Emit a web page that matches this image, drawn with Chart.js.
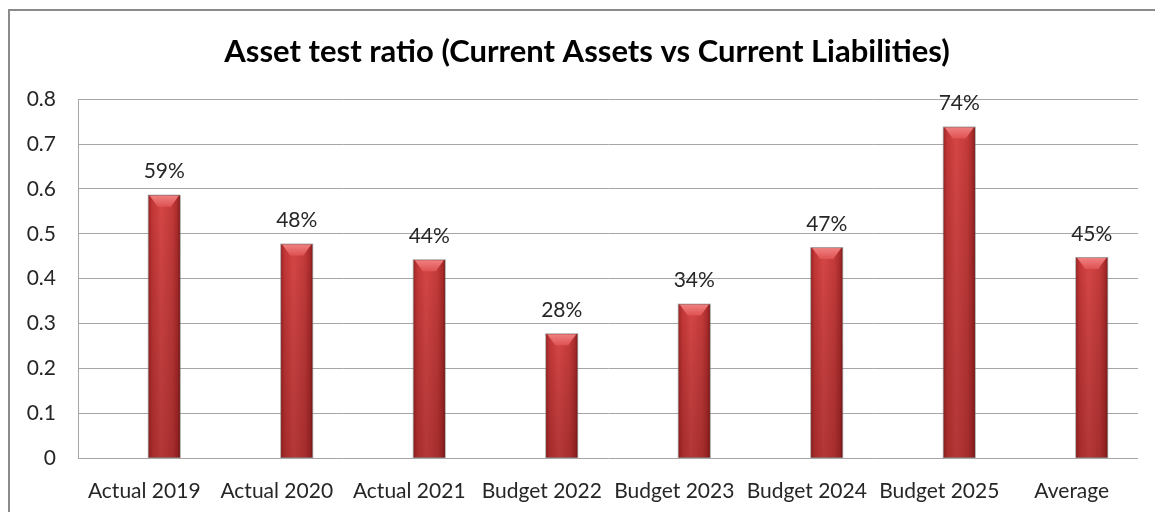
<!DOCTYPE html>
<html>
<head>
<meta charset="utf-8">
<title>Asset test ratio</title>
<script src="https://cdn.jsdelivr.net/npm/chart.js@4.4.1/dist/chart.umd.min.js"></script>
<style>
  html, body { margin: 0; padding: 0; background: #fff; }
  #wrap { width: 1155px; height: 512px; position: relative; }
</style>
</head>
<body>
<div id="wrap"><canvas id="ratioChart"></canvas></div>
<script>
// 데이터
const categories = ['Actual 2019', 'Actual 2020', 'Actual 2021', 'Budget 2022',
                    'Budget 2023', 'Budget 2024', 'Budget 2025', 'Average'];
const ratioValues = [0.585, 0.476, 0.441, 0.276, 0.342, 0.468, 0.737, 0.446];
const yTicks = [0, 0.1, 0.2, 0.3, 0.4, 0.5, 0.6, 0.7, 0.8];

const FONT = 'Lato, "Open Sans", sans-serif';
const BAR_SHIFT = 20;   // 막대를 카테고리 중심에서 오른쪽으로 밀어줌 (입체 깊이 효과)
const TITLE_INSET = 36; // 제목을 조금 오른쪽으로
const GRID = '#a6a6a6';

const pct = v => Math.round(v * 100) + '%';

// 막대 가로 그라데이션 (원통 느낌)
function barFill(ctx) {
    const chart = ctx.chart;
    if (!chart.chartArea || ctx.dataIndex === undefined) return '#c83c3c';
    const cx = chart.scales.x.getPixelForValue(ctx.dataIndex) + BAR_SHIFT;
    const g = chart.ctx.createLinearGradient(cx - 16, 0, cx + 16, 0);
    g.addColorStop(0, '#9c2424');
    g.addColorStop(0.12, '#c23636');
    g.addColorStop(0.4, '#d64646');
    g.addColorStop(0.75, '#c43a3a');
    g.addColorStop(0.92, '#a82a2a');
    g.addColorStop(1, '#7e1818');
    return g;
}

const framePlugin = {
    id: 'frame',
    afterLayout(chart) {
        if (chart.titleBlock) chart.titleBlock.left += TITLE_INSET;
    },
    beforeDraw(chart) {
        const c = chart.ctx;
        c.save();
        c.fillStyle = '#fff';
        c.fillRect(0, 0, chart.width, chart.height);
        c.strokeStyle = '#8a8a8a';
        c.lineWidth = 2;
        c.strokeRect(9, 10, chart.width + 20, chart.height + 20);
        c.restore();
    }
};

const shiftPlugin = {
    id: 'barShift',
    afterDatasetsUpdate(chart) {
        chart.getDatasetMeta(0).data.forEach(el => { el.x += BAR_SHIFT; });
    }
};

// 막대 윗면 경사, 아래쪽 음영, 값 라벨
const barDecorPlugin = {
    id: 'barDecor',
    afterDatasetsDraw(chart) {
        const c = chart.ctx;
        const meta = chart.getDatasetMeta(0);
        c.save();
        meta.data.forEach((el, i) => {
            const { x, y, base, width } = el.getProps(['x', 'y', 'base', 'width'], true);
            const l = x - width / 2, r = x + width / 2;

            // 아래로 갈수록 살짝 어둡게
            const vg = c.createLinearGradient(0, y, 0, base);
            vg.addColorStop(0, 'rgba(0,0,0,0)');
            vg.addColorStop(1, 'rgba(60,0,0,0.22)');
            c.fillStyle = vg;
            c.fillRect(l, y, width, base - y);

            // 윗면 경사
            const tg = c.createLinearGradient(0, y, 0, y + 11);
            tg.addColorStop(0, '#f08080');
            tg.addColorStop(1, '#de5252');
            c.fillStyle = tg;
            c.beginPath();
            c.moveTo(l + 1, y);
            c.lineTo(r - 1, y);
            c.lineTo(r - 9, y + 11);
            c.lineTo(l + 9, y + 11);
            c.closePath();
            c.fill();

            // 가장자리 그림자
            c.strokeStyle = 'rgba(110,110,110,0.55)';
            c.lineWidth = 1;
            c.strokeRect(l - 0.5, y - 0.5, width + 1, base - y + 0.5);

            // 값 라벨
            c.fillStyle = '#262626';
            c.font = '21px ' + FONT;
            c.textAlign = 'center';
            c.textBaseline = 'middle';
            c.fillText(pct(ratioValues[i]), x, y - 24);
        });
        c.restore();
    }
};

new Chart(document.getElementById('ratioChart'), {
    type: 'bar',
    data: {
        labels: categories,
        datasets: [{
            data: ratioValues,
            backgroundColor: barFill,
            borderWidth: 0,
            barThickness: 31
        }]
    },
    options: {
        responsive: true,
        maintainAspectRatio: false,
        animation: false,
        layout: { padding: { left: 0, right: 17, top: 0, bottom: 0 } },
        plugins: {
            legend: { display: false },
            tooltip: { enabled: false },
            title: {
                display: true,
                text: 'Asset test ratio (Current Assets vs Current Liabilities)',
                color: '#000',
                font: { family: FONT, size: 31, weight: 'bold', lineHeight: 1.2 },
                padding: { top: 33, bottom: 29 }
            }
        },
        scales: {
            x: {
                grid: { display: false },
                border: { display: false },
                ticks: {
                    color: '#262626',
                    font: { family: FONT, size: 21 },
                    padding: 13,
                    maxRotation: 0,
                    autoSkip: false
                },
                afterFit(scale) { scale.height = 54; }
            },
            y: {
                min: 0,
                max: 0.8,
                afterBuildTicks(scale) { scale.ticks = yTicks.map(v => ({ value: v })); },
                grid: { color: GRID, lineWidth: 1, drawTicks: false },
                border: { display: true, color: GRID, width: 1 },
                ticks: {
                    color: '#262626',
                    font: { family: FONT, size: 21 },
                    padding: 22,
                    callback: v => String(v)
                },
                afterFit(scale) { scale.width = 78; }
            }
        }
    },
    plugins: [framePlugin, shiftPlugin, barDecorPlugin]
});
</script>
</body>
</html>
